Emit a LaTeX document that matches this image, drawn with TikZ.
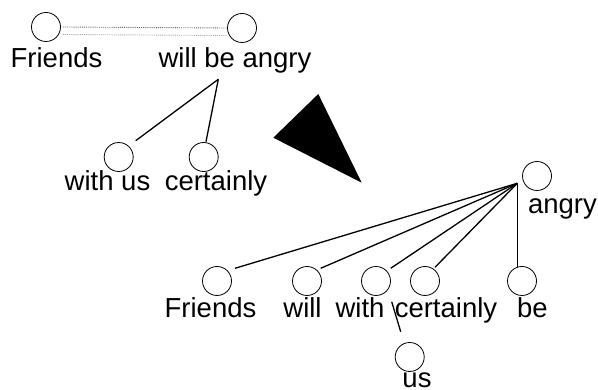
\documentclass[tikz,border=0pt]{standalone}
\usepackage{fontspec}
\setmainfont{Liberation Sans}
\usetikzlibrary{calc}

\begin{document}
\begin{tikzpicture}[x=1pt,y=-1pt,
  word/.style={draw,circle,line width=0.8pt,minimum size=29pt,inner sep=0pt,outer sep=0pt},
  tag/.style={anchor=base,inner sep=0pt,font=\fontsize{27.5}{30}\selectfont},
  link/.style={line width=1.3pt}]
\useasboundingbox (0,0) rectangle (598,390);

% phrase tree
\node[word](f1) at (46,27){};
\node[word](wba) at (242,28){};
\node[word](wu) at (118.7,157){};
\node[word](c1) at (203.7,157){};
\node[tag](f1t) at (56.5,67.7){Friends};
\node[tag](wbat) at (235,67.7){will be angry};
\node[tag](wut) at (107.5,191){with us};
\node[tag](c1t) at (216,191){certainly};

\draw [gray!80!black,densely dotted,line width=0.9pt] ($(f1.east)+(2.6,0)$) -- ($(wba.west)+(-1,0)$);
\draw [gray!70,densely dotted,line width=0.9pt] ($(f1.east)+(2.6,7.5)$) -- ($(wba.west)+(-1,7.5)$);

\coordinate (hubA) at ($(wba)+(-23.7,51.3)$);
\draw [link] (hubA) -- ($(wu)+(17,-16.3)$);
\draw [link] (hubA) -- ($(c1)+(2.3,-15.3)$);

% arrow between the two trees
\fill (318.3,94) -- (273.3,137.7) -- (361.7,182.7) -- cycle;

% word tree
\node[word](ang) at (537,176){};
\node[word](f2) at (217,281){};
\node[word](wl) at (307,281){};
\node[word](wi) at (376,281){};
\node[word](c2) at (425,281){};
\node[word](be) at (522,281){};
\node[word](us) at (409.7,357){};
\node[tag](angt) at (562.5,213.3){angry};
\node[tag](f2t) at (210.5,317.7){Friends};
\node[tag](wlt) at (302.5,317.7){will};
\node[tag](wit) at (360,317.7){with};
\node[tag](c2t) at (446,317.7){certainly};
\node[tag](bet) at (532.5,317.7){be};
\node[tag](ust) at (417,388){us};

\coordinate (hubB) at ($(ang)+(-19.7,7.3)$);
\draw [link] (hubB) -- ($(f2)+(18,-12.7)$);
\draw [link] (hubB) -- ($(wl)+(13.7,-12.7)$);
\draw [link] (hubB) -- ($(wi)+(14.7,-12.7)$);
\draw [link] (hubB) -- ($(c2)+(10,-13.7)$);
\draw [link] (hubB) -- ($(be)+(-4.7,-14.3)$);
\draw [link] ($(wi)+(15.7,20.7)$) -- ($(us)+(-9,-25.3)$);
\end{tikzpicture}
\end{document}
